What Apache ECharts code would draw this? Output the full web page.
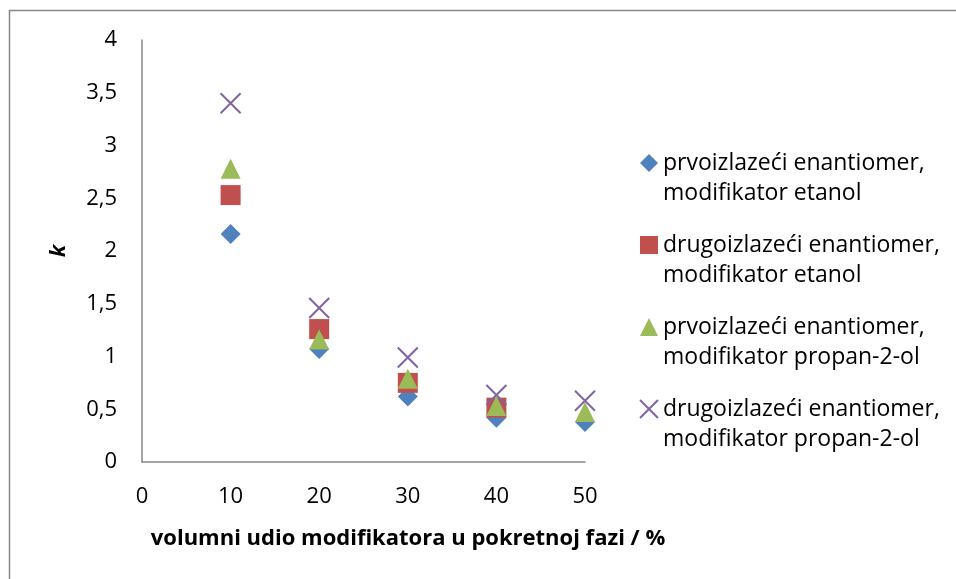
<!DOCTYPE html>
<html>
<head>
<meta charset="utf-8">
<script src="https://cdn.jsdelivr.net/npm/echarts@6/dist/echarts.min.js"></script>
<style>
  html, body { margin: 0; padding: 0; background: #fff; }
  #chart { width: 956px; height: 579px; }
</style>
</head>
<body>
<div id="chart"></div>
<script>
// Volume fraction of modifier in the mobile phase (%)
const modifierShare = [10, 20, 30, 40, 50];

// Retention factor k per enantiomer and modifier
const firstEthanol = [2.16, 1.07, 0.62, 0.42, 0.38];
const secondEthanol = [2.53, 1.26, 0.75, 0.515, null];
const firstPropanol = [2.78, 1.16, 0.79, 0.53, 0.475];
const secondPropanol = [3.40, 1.46, 0.99, 0.635, 0.58];

const seriesNames = [
  'prvoizlazeći enantiomer,\nmodifikator etanol',
  'drugoizlazeći enantiomer,\nmodifikator etanol',
  'prvoizlazeći enantiomer,\nmodifikator propan-2-ol',
  'drugoizlazeći enantiomer,\nmodifikator propan-2-ol'
];

const xTitle = 'volumni udio modifikatora u pokretnoj fazi / %';
const yTitle = 'k';

const FONT = 'Open Sans';
const AXIS_GREY = '#878787';

function pairs(values) {
  return modifierShare
    .map((x, i) => [x, values[i]])
    .filter(p => p[1] !== null);
}

const crossPath = 'path://M0,0L10,10M10,0L0,10';

const chart = echarts.init(document.getElementById('chart'), null, { renderer: 'canvas' });

chart.setOption({
  backgroundColor: '#ffffff',
  animation: false,
  textStyle: { fontFamily: FONT, color: '#000' },
  graphic: [{
    type: 'rect',
    shape: { x: 9.5, y: 10.5, width: 1200, height: 1200 },
    style: { fill: 'none', stroke: AXIS_GREY, lineWidth: 1.5 },
    z: -1,
    silent: true
  }],
  grid: { left: 142, right: 371, top: 40, bottom: 117, containLabel: false },
  legend: {
    orient: 'vertical',
    left: 639,
    top: 118,
    padding: 0,
    itemGap: -8,
    itemWidth: 18,
    itemHeight: 18,
    // a blank leading line keeps the marker level with the first text line
    formatter: name => '\n' + name,
    textStyle: {
      fontFamily: FONT,
      fontSize: 23,
      lineHeight: 30,
      color: '#000'
    },
    data: seriesNames
  },
  xAxis: {
    type: 'value',
    min: 0,
    max: 50,
    interval: 10,
    name: xTitle,
    nameLocation: 'middle',
    nameGap: 66,
    nameTextStyle: {
      fontFamily: FONT,
      fontSize: 22,
      fontWeight: 'bold',
      color: '#000',
      padding: [0, 0, 0, 89]
    },
    axisLine: { show: true, lineStyle: { color: AXIS_GREY, width: 1.5 } },
    axisTick: { show: false },
    splitLine: { show: false },
    axisLabel: { fontFamily: FONT, fontSize: 22, color: '#000', margin: 24 }
  },
  yAxis: {
    type: 'value',
    min: 0,
    max: 4,
    interval: 0.5,
    name: yTitle,
    nameLocation: 'middle',
    nameGap: 72,
    nameRotate: 90,
    nameTextStyle: {
      fontFamily: FONT,
      fontSize: 22,
      fontWeight: 'bold',
      fontStyle: 'italic',
      color: '#000'
    },
    axisLine: { show: true, lineStyle: { color: AXIS_GREY, width: 1.5 } },
    axisTick: { show: false },
    splitLine: { show: false },
    axisLabel: {
      fontFamily: FONT,
      fontSize: 22,
      color: '#000',
      margin: 25,
      formatter: v => String(v).replace('.', ',')
    }
  },
  series: [
    {
      name: seriesNames[0],
      type: 'scatter',
      symbol: 'diamond',
      symbolSize: 20,
      itemStyle: { color: '#4F81BD', opacity: 1 },
      data: pairs(firstEthanol)
    },
    {
      name: seriesNames[1],
      type: 'scatter',
      symbol: 'rect',
      symbolSize: 20,
      itemStyle: { color: '#C0504D', opacity: 1 },
      data: pairs(secondEthanol)
    },
    {
      name: seriesNames[2],
      type: 'scatter',
      symbol: 'triangle',
      symbolSize: 20,
      itemStyle: { color: '#9BBB59', opacity: 1 },
      data: pairs(firstPropanol)
    },
    {
      name: seriesNames[3],
      type: 'scatter',
      symbol: crossPath,
      symbolSize: 20,
      itemStyle: { color: 'rgba(0,0,0,0)', borderColor: '#8064A2', borderWidth: 2, opacity: 1 },
      data: pairs(secondPropanol)
    }
  ]
});
</script>
</body>
</html>
